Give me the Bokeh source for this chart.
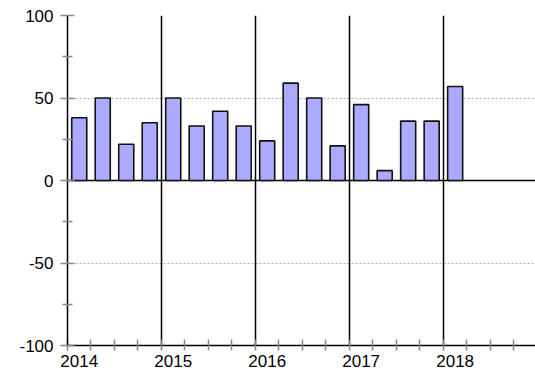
from bokeh.plotting import figure
from bokeh.models import FixedTicker, Grid, LinearAxis, Range1d, ColumnDataSource
from bokeh.embed import file_html
from bokeh.resources import INLINE

quarters = ["2014Q1", "2014Q2", "2014Q3", "2014Q4",
            "2015Q1", "2015Q2", "2015Q3", "2015Q4",
            "2016Q1", "2016Q2", "2016Q3", "2016Q4",
            "2017Q1", "2017Q2", "2017Q3", "2017Q4",
            "2018Q1"]
values = [38, 50, 22, 35, 50, 33, 42, 33, 24, 59, 50, 21, 46, 6, 36, 36, 57]
years = [2014, 2015, 2016, 2017, 2018]
year_labels = ["2014", "2015", "2016", "2017", "2018"]
y_major = [-100, -50, 0, 50, 100]
y_major_labels = ["-100", "-50", "0", "50", "100"]
y_minor = [-75, -25, 25, 75]

xpos = [int(q[:4]) + (int(q[5]) - 1) * 0.25 + 0.125 for q in quarters]
src = ColumnDataSource(data=dict(x=xpos, v=values, q=quarters))

FONT = "Liberation Sans"

p = figure(frame_width=468, frame_height=330, output_backend="svg", toolbar_location=None,
           x_range=Range1d(2014, 2018.98), y_range=Range1d(-100, 100),
           x_axis_type=None, y_axis_type=None,
           min_border_top=15, min_border_left=67, min_border_right=0, min_border_bottom=0)
p.outline_line_color = None
p.background_fill_color = "white"
p.border_fill_color = "white"

# gridlines
p.add_layout(Grid(dimension=1, ticker=FixedTicker(ticks=[-50, 50]),
                  grid_line_color="#aaaaaa", grid_line_dash="2 2", grid_line_width=1))
p.add_layout(Grid(dimension=1, ticker=FixedTicker(ticks=[0, 100]),
                  grid_line_color="black", grid_line_width=1.5))
p.add_layout(Grid(dimension=0, ticker=FixedTicker(ticks=years[1:]),
                  grid_line_color="black", grid_line_width=1.5))

p.vbar(x="x", top="v", bottom=0, width=0.16, source=src,
       fill_color="#aaaaff", line_color="#111111", line_width=1.6)

quarter_bounds = [y + k * 0.25 for y in years for k in range(4)]
label_pos = [y + 0.125 for y in years]
xaxis = LinearAxis(
    ticker=FixedTicker(ticks=label_pos, minor_ticks=quarter_bounds),
    major_label_overrides={lp: lab for lp, lab in zip(label_pos, year_labels)},
    major_tick_line_color=None, major_tick_in=0, major_tick_out=0,
    minor_tick_in=6, minor_tick_out=5, minor_tick_line_color="#888888",
    minor_tick_line_width=1.5,
    axis_line_color="black", axis_line_width=1.5,
    major_label_standoff=4,
    major_label_text_font=FONT, major_label_text_font_size="17px",
    major_label_text_color="black")
p.add_layout(xaxis, "below")

yaxis = LinearAxis(
    ticker=FixedTicker(ticks=y_major, minor_ticks=y_minor),
    major_label_overrides={t: s for t, s in zip(y_major, y_major_labels)},
    major_tick_in=7, major_tick_out=7, major_tick_line_color="#888888",
    major_tick_line_width=1.5,
    minor_tick_in=5, minor_tick_out=5, minor_tick_line_color="#888888",
    minor_tick_line_width=1.5,
    axis_line_color="black", axis_line_width=1.5,
    major_label_standoff=7,
    major_label_text_font=FONT, major_label_text_font_size="17px",
    major_label_text_color="black")
p.add_layout(yaxis, "left")

open("out.html", "w").write(file_html(p, INLINE))
